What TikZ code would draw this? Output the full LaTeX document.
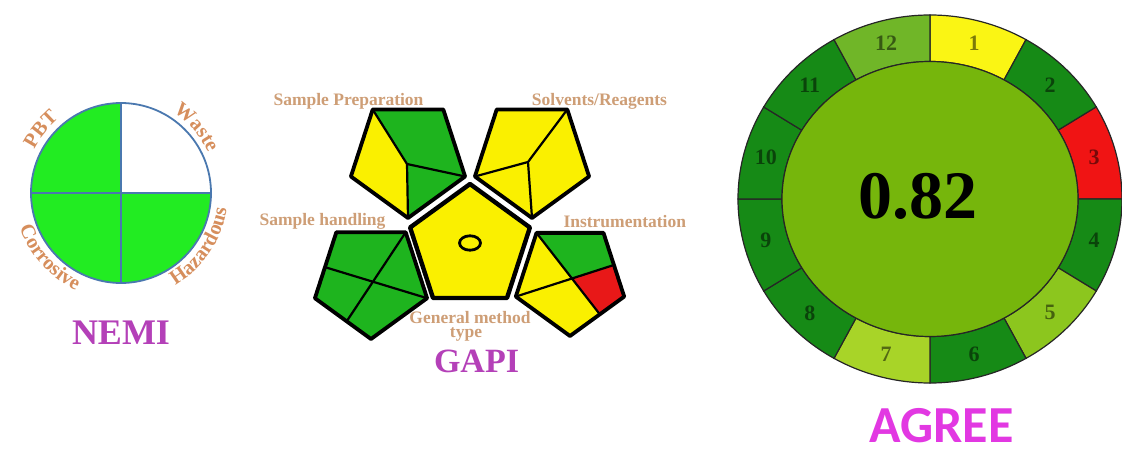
\documentclass[tikz,border=0pt]{standalone}
\usepackage{fontspec}
\setmainfont{Liberation Serif}
\newfontfamily\agreefont{Carlito}
\usetikzlibrary{decorations.text}
\definecolor{nemigreen}{RGB}{34,236,34}
\definecolor{nemiline}{RGB}{74,120,175}
\definecolor{nemilab}{RGB}{214,142,92}
\definecolor{gapilab}{RGB}{206,158,118}
\definecolor{titlepurple}{RGB}{180,64,184}
\definecolor{gapigreen}{RGB}{30,180,30}
\definecolor{gapiyellow}{RGB}{250,240,0}
\definecolor{gapired}{RGB}{232,24,24}
\definecolor{agY}{RGB}{250,245,20}
\definecolor{agD}{RGB}{22,138,22}
\definecolor{agR}{RGB}{240,20,20}
\definecolor{agL}{RGB}{112,182,40}
\definecolor{agM}{RGB}{140,198,30}
\definecolor{agP}{RGB}{168,212,40}
\definecolor{aginner}{RGB}{118,182,12}
\definecolor{agreetitle}{RGB}{226,56,226}
\newcommand\nemifont{\fontsize{20.5}{20.5}\selectfont\bfseries\color{nemilab}}
\tikzset{
  pent/.style={draw=black, line width=3.8, line join=round},
  divline/.style={draw=black, line width=2.2},
  gapilabel/.style={font=\fontsize{17.5}{17.5}\selectfont\bfseries, text=gapilab, inner sep=0, anchor=base},
  bigtitle/.style={font=\fontsize{36}{36}\selectfont\bfseries, text=titlepurple, inner sep=0, anchor=base},
  agnum/.style={font=\fontsize{22}{22}\selectfont\bfseries, text=black, text opacity=0.5, inner sep=0},
  ring/.style={draw=black!85, line width=1.2},
  nemilabel/.style={decorate, decoration={text along path, text align=center, text={|\nemifont|#1}}}
}
\begin{document}
\begin{tikzpicture}[x=1pt,y=1pt]
\useasboundingbox (0,0) rectangle (1122,450);
\fill[white] (0,0) rectangle (1122,450);

% ---------------- NEMI ----------------
\coordinate (nc) at (121,257);
\fill[nemigreen] (nc) circle[radius=90];
\fill[white] (nc) -- (211,257) arc[start angle=0,end angle=90,radius=90] -- cycle;
\coordinate (nl) at (31,257);
\coordinate (nr) at (211,257);
\coordinate (nt) at (121,347);
\coordinate (nb) at (121,167);
\draw[nemiline, line width=1.8] (nl) -- (nr) (nb) -- (nt);
\draw[nemiline, line width=1.8] (nc) circle[radius=90];
\path[nemilabel={PBT}] ({121+97*cos(175)},{257+97*sin(175)}) arc[start angle=175,end angle=108,radius=97];
\path[nemilabel={Waste}] ({121+96*cos(75)},{257+96*sin(75)}) arc[start angle=75,end angle=7,radius=96];
\path[nemilabel={Corrosive}] ({121+107*cos(185)},{257+107*sin(185)}) arc[start angle=185,end angle=259,radius=107];
\path[nemilabel={Hazardous}] ({121+107*cos(-75)},{257+107*sin(-75)}) arc[start angle=-75,end angle=7,radius=107];
\node[bigtitle] (nemi) at (121,105) {NEMI};

% ---------------- GAPI ----------------
% Sample preparation
\coordinate (sp1) at (408,232);
\coordinate (sp2) at (465.1,273.5);
\coordinate (sp3) at (443.3,340.5);
\coordinate (sp4) at (372.7,340.5);
\coordinate (sp5) at (350.9,273.5);
\coordinate (spc) at (407,286);
\fill[gapiyellow] (spc) -- (sp4) -- (sp5) -- (sp1) -- cycle;
\fill[gapigreen] (spc) -- (sp4) -- (sp3) -- (sp2) -- cycle;
\fill[gapigreen] (spc) -- (sp2) -- (sp1) -- cycle;
\draw[divline] (sp4) -- (spc) -- (sp1) (spc) -- (sp2);
\draw[pent] (sp1) -- (sp2) -- (sp3) -- (sp4) -- (sp5) -- cycle;

% Solvents / reagents
\coordinate (sr1) at (532,232);
\coordinate (sr2) at (589.1,273.5);
\coordinate (sr3) at (567.3,340.5);
\coordinate (sr4) at (496.7,340.5);
\coordinate (sr5) at (474.9,273.5);
\coordinate (src) at (528,288);
\fill[gapiyellow] (sr1) -- (sr2) -- (sr3) -- (sr4) -- (sr5) -- cycle;
\draw[divline] (sr3) -- (src) -- (sr5) (src) -- (sr1);
\draw[pent] (sr1) -- (sr2) -- (sr3) -- (sr4) -- (sr5) -- cycle;

% General method type
\coordinate (gm1) at (470,266);
\coordinate (gm2) at (529.9,222.5);
\coordinate (gm3) at (507,152);
\coordinate (gm4) at (433,152);
\coordinate (gm5) at (410.1,222.5);
\fill[gapiyellow] (gm1) -- (gm2) -- (gm3) -- (gm4) -- (gm5) -- cycle;
\draw[pent, line width=4.4] (gm1) -- (gm2) -- (gm3) -- (gm4) -- (gm5) -- cycle;
\draw[black, line width=2.8, fill=gapiyellow] (470,207) ellipse[x radius=10.5, y radius=7.2];

% Sample handling
\coordinate (sh1) at (371,111);
\coordinate (sh2) at (427.1,151.8);
\coordinate (sh3) at (405.7,217.7);
\coordinate (sh4) at (336.3,217.7);
\coordinate (sh5) at (314.9,151.8);
\coordinate (shA) at (346.7,128.7);
\coordinate (shB) at (324.5,183);
\fill[gapigreen] (sh1) -- (sh2) -- (sh3) -- (sh4) -- (sh5) -- cycle;
\draw[divline] (sh3) -- (shA) (shB) -- (sh2);
\draw[pent] (sh1) -- (sh2) -- (sh3) -- (sh4) -- (sh5) -- cycle;

% Instrumentation
\coordinate (in1) at (570,114);
\coordinate (in2) at (624.2,153.4);
\coordinate (in3) at (603.5,217.1);
\coordinate (in4) at (536.5,217.1);
\coordinate (in5) at (515.8,153.4);
\coordinate (inC) at (613.9,185);
\coordinate (inD) at (599.8,135.7);
\coordinate (inX) at (572,171.5);
\fill[gapigreen] (in4) -- (in3) -- (inC) -- (inX) -- cycle;
\fill[gapired] (inX) -- (inC) -- (in2) -- (inD) -- cycle;
\fill[gapiyellow] (in4) -- (inX) -- (in5) -- cycle;
\fill[gapiyellow] (in5) -- (inX) -- (inD) -- (in1) -- cycle;
\draw[divline] (in4) -- (inD) (in5) -- (inC);
\draw[pent] (in1) -- (in2) -- (in3) -- (in4) -- (in5) -- cycle;

\node[gapilabel] (lsp) at (348.5,344) {Sample Preparation};
\node[gapilabel, anchor=base west] (lsr) at (531.7,344) {Solvents/Reagents};
\node[gapilabel] (lsh) at (322.5,224) {Sample handling};
\node[gapilabel, anchor=base west] (lin) at (563.3,222) {Instrumentation};
\node[gapilabel] (lgm) at (470,126) {General method};
\node[gapilabel] (lty) at (466,112.5) {type};
\node[bigtitle, font=\fontsize{34}{34}\selectfont\bfseries] (gapi) at (476.5,77) {GAPI};

% ---------------- AGREE ----------------
\foreach \k/\col in {1/agY,2/agD,3/agR,4/agD,5/agM,6/agD,7/agP,8/agD,9/agD,10/agD,11/agD,12/agL}{
  \pgfmathsetmacro\a{90-30*\k}
  \pgfmathsetmacro\b{\a+30}
  \pgfmathsetmacro\m{\a+15}
  \filldraw[ring, fill=\col] ({930+192*cos(\a)},{251+184*sin(\a)})
     arc[start angle=\a, end angle=\b, x radius=192, y radius=184]
     -- ({930+148*cos(\b)},{251+137.5*sin(\b)})
     arc[start angle=\b, end angle=\a, x radius=148, y radius=137.5] -- cycle;
  \node[agnum] (seg\k) at ({930+170*cos(\m)},{251+161*sin(\m)}) {\k};
}
\filldraw[ring, fill=aginner] (930,251) ellipse[x radius=148, y radius=137.5];
\node[font=\fontsize{68}{68}\selectfont\bfseries, inner sep=0, anchor=base] (score) at (918.3,231) {0.82};
\node[font=\agreefont\bfseries\fontsize{52}{52}\selectfont, text=agreetitle, inner sep=0, anchor=base] (agree) at (941.5,8) {AGREE};
\end{tikzpicture}
\end{document}
